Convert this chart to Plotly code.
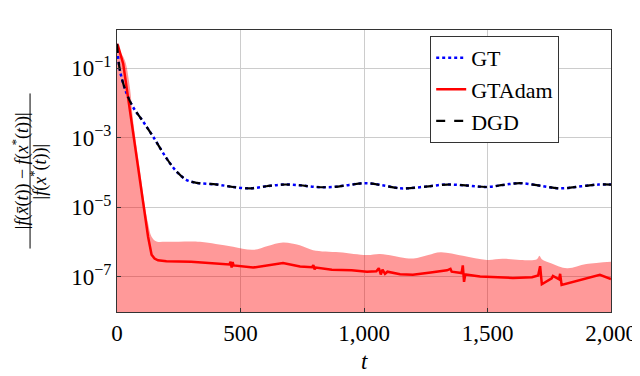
import numpy as np
import plotly.graph_objects as go

FONT_FAMILY = "'Liberation Serif', 'DejaVu Serif', serif"

# values, stored as log10 of the relative error
GT_T = [0, 12, 39, 65, 107, 147, 201, 242, 282, 322, 405, 470, 538, 605, 672, 740,
        805, 874, 940, 1012, 1080, 1146, 1174, 1250, 1336, 1420, 1498, 1565, 1632,
        1710, 1794, 1880, 1950, 2000]
GT_LOG = [-0.3, -1.07, -1.73, -2.12, -2.55, -2.98, -3.6, -3.98, -4.22, -4.3, -4.35,
          -4.42, -4.46, -4.4, -4.35, -4.37, -4.42, -4.42, -4.36, -4.31, -4.38, -4.46,
          -4.46, -4.41, -4.35, -4.38, -4.42, -4.36, -4.31, -4.38, -4.46, -4.4, -4.35,
          -4.35]
DGD_LOG = GT_LOG

ADAM_T = [0, 4, 25, 45, 65, 85, 106, 126, 140, 152, 166, 200, 300, 400, 455, 460, 464,
          468, 472, 551, 672, 741, 790, 795, 800, 805, 870, 950, 1012, 1050, 1060, 1068,
          1075, 1085, 1095, 1146, 1198, 1270, 1336, 1350, 1355, 1395, 1400, 1405, 1410,
          1470, 1603, 1680, 1705, 1713, 1720, 1760, 1765, 1790, 1794, 1800, 1875, 1955,
          2000]
ADAM_LOG = [-0.3, -0.35, -0.87, -1.84, -2.79, -3.74, -4.8, -5.86, -6.37, -6.48, -6.53,
            -6.56, -6.57, -6.62, -6.65, -6.57, -6.74, -6.58, -6.68, -6.74, -6.61, -6.71,
            -6.73, -6.67, -6.79, -6.74, -6.8, -6.82, -6.86, -6.85, -6.76, -6.94, -6.8,
            -6.92, -6.86, -6.93, -6.95, -6.88, -6.82, -6.78, -6.86, -6.9, -6.68, -7.15,
            -6.94, -7.0, -7.04, -7.02, -6.97, -6.7, -7.22, -7.05, -6.98, -7.08, -6.92,
            -7.24, -7.09, -6.95, -7.07]

BAND_T = [0, 10, 32, 52, 65, 93, 113, 126, 140, 160, 200, 336, 400, 470, 551, 610, 672,
          740, 794, 900, 1012, 1065, 1146, 1200, 1260, 1310, 1400, 1498, 1560, 1632,
          1700, 1710, 1720, 1760, 1822, 1900, 2000]
BAND_LOG = [-0.4, -0.5, -0.78, -1.54, -2.5, -3.94, -4.98, -5.47, -5.85, -5.99, -6.0,
            -6.0, -6.06, -6.14, -6.23, -6.12, -6.02, -6.1, -6.24, -6.3, -6.38, -6.35,
            -6.44, -6.48, -6.38, -6.3, -6.4, -6.52, -6.49, -6.52, -6.5, -6.4, -6.5,
            -6.62, -6.76, -6.64, -6.57]
BAND_FLOOR = -9

X_TICKS = [0, 500, 1000, 1500, 2000]
Y_TICKS = [-1, -3, -5, -7]
Y_TICK_TEXT = ["10<sup>\u22121</sup>", "10<sup>\u22123</sup>", "10<sup>\u22125</sup>",
               "10<sup>\u22127</sup>"]

Y_NUM = "|<i>f</i>(<i>x\u0304</i>(<i>t</i>)) \u2212 <i>f</i>(<i>x</i><sup>*</sup>(<i>t</i>))|"
Y_DEN = "|<i>f</i>(<i>x</i><sup>*</sup>(<i>t</i>))|"


def to_val(logs):
    return np.power(10.0, np.array(logs, dtype=float))


fig = go.Figure()

fig.add_trace(go.Scatter(x=BAND_T, y=to_val([BAND_FLOOR] * len(BAND_T)), mode='lines',
                         line=dict(width=0), showlegend=False, hoverinfo='skip'))
fig.add_trace(go.Scatter(x=BAND_T, y=to_val(BAND_LOG), mode='lines', fill='tonexty',
                         fillcolor='rgba(255,0,0,0.4)', line=dict(width=0, shape='spline'),
                         showlegend=False, hoverinfo='skip'))
fig.add_trace(go.Scatter(x=GT_T, y=to_val(GT_LOG), mode='lines', name='GT',
                         line=dict(color='blue', width=2.5, dash='dot', shape='spline')))
fig.add_trace(go.Scatter(x=ADAM_T, y=to_val(ADAM_LOG), mode='lines', name='GTAdam',
                         line=dict(color='red', width=2.5)))
fig.add_trace(go.Scatter(x=GT_T, y=to_val(DGD_LOG), mode='lines', name='DGD',
                         line=dict(color='black', width=2.2, dash='dash', shape='spline')))

# y label drawn as a fraction: numerator, bar, denominator
fig.add_annotation(text=Y_NUM, xref='paper', yref='paper', x=-0.194, y=0.5,
                   xanchor='center', yanchor='middle', textangle=-90, showarrow=False,
                   font=dict(family=FONT_FAMILY, size=18, color='black'))
fig.add_annotation(text=Y_DEN, xref='paper', yref='paper', x=-0.157, y=0.5,
                   xanchor='center', yanchor='middle', textangle=-90, showarrow=False,
                   font=dict(family=FONT_FAMILY, size=18, color='black'))
fig.add_shape(type='line', xref='paper', yref='paper', x0=-0.176, x1=-0.176,
              y0=0.225, y1=0.775, line=dict(color='black', width=1))

fig.add_annotation(text='<i>t</i>', xref='paper', yref='paper', x=0.5, y=-0.177,
                   xanchor='center', yanchor='middle', showarrow=False,
                   font=dict(family=FONT_FAMILY, size=23, color='black'))

# the page body has an 8px margin on the left and top
fig.update_layout(
    width=632, height=368,
    margin=dict(l=109, r=29, t=22, b=64),
    paper_bgcolor='white',
    plot_bgcolor='white',
    font=dict(family=FONT_FAMILY, size=23, color='black'),
    xaxis=dict(
        range=[0, 2000], tickvals=X_TICKS, tickformat=',', showgrid=True, automargin=False,
        gridcolor='#cccccc', showline=True, linecolor='#333333', linewidth=1, mirror=True,
        ticks='inside', ticklen=4, tickcolor='#333333', zeroline=False,
    ),
    yaxis=dict(
        type='log', range=[-8.02, 0.1], tickvals=to_val(Y_TICKS), ticktext=Y_TICK_TEXT,
        showgrid=True, gridcolor='#cccccc', showline=True, linecolor='#333333',
        linewidth=1, mirror=True, ticks='inside', ticklen=4, tickcolor='#333333',
        zeroline=False, automargin=False,
    ),
    legend=dict(
        x=0.634, y=0.979, xanchor='left', yanchor='top', traceorder='normal',
        bgcolor='white', bordercolor='#333333', borderwidth=1,
        font=dict(family=FONT_FAMILY, size=22),
    ),
    showlegend=True,
)

fig.write_html("out.html")
